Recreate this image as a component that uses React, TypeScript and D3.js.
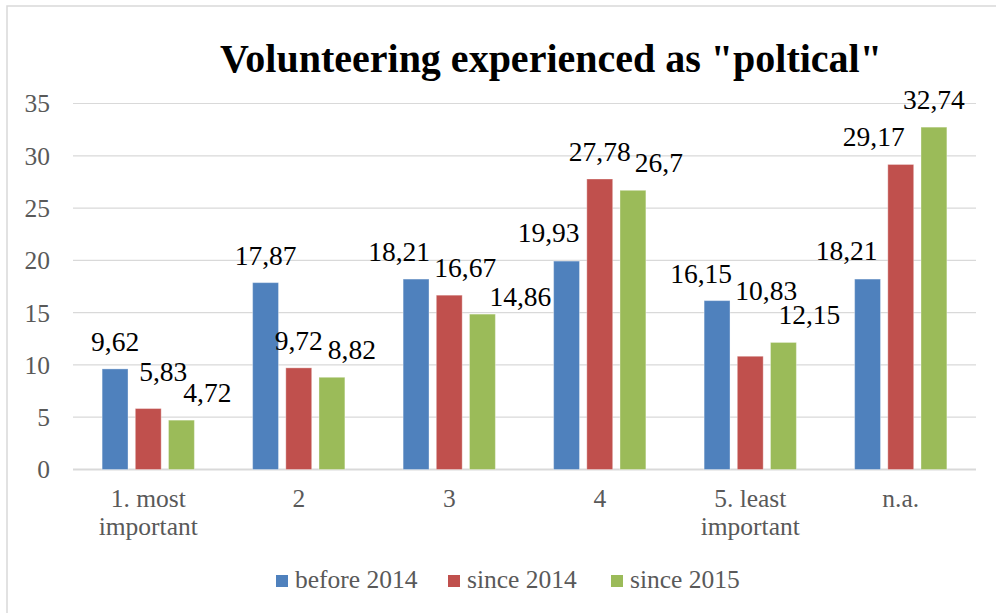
import React from 'react';
import { scaleBand, scaleLinear, range } from 'd3';

const width = 996;
const height = 613;
const margin = { top: 103.5, right: 20, bottom: 143.5, left: 73 };

const categories = ['1. most\nimportant', '2', '3', '4', '5. least\nimportant', 'n.a.'];
const series = ['before 2014', 'since 2014', 'since 2015'];
const before2014 = [9.62, 17.87, 18.21, 19.93, 16.15, 18.21];
const since2014 = [5.83, 9.72, 16.67, 27.78, 10.83, 29.17];
const since2015 = [4.72, 8.82, 14.86, 26.7, 12.15, 32.74];
const yTicks = [0, 5, 10, 15, 20, 25, 30, 35];

const colors = ['#4F81BD', '#C0504D', '#9BBB59'];
// manual label nudges [dx, dy], like the hand-moved labels in the original
const labelNudge = [
  [[0, 0], [0, 0], [-17, 0], [-18, -1], [-16, 0], [-21, -1]],
  [[15, -10], [0, 0], [16, 0], [0, 0], [16, -38], [-27, 0]],
  [[26, 0], [20, 0], [38, 10], [26, 0], [26, 0], [0, 0]],
];

const font = '"Liberation Serif", serif';

function App() {
  const values = [before2014, since2014, since2015];
  const x0 = scaleBand<number>()
    .domain(range(categories.length))
    .range([margin.left, width - margin.right])
    .paddingInner(0.387)
    .paddingOuter(0.1935);
  const x1 = scaleBand<number>()
    .domain(range(series.length))
    .range([0, x0.bandwidth()])
    .paddingInner(0.22);
  const y = scaleLinear().domain([0, 35]).range([height - margin.bottom, margin.top]);

  const plotRight = width - margin.right;

  // legend layout
  const legendX = [276, 448, 611];

  return (
    <svg
      width={width}
      height={height}
      style={{ position: 'absolute', left: 0, top: 0, background: '#fff' }}
    >
      <rect x={7} y={6} width={width} height={height} fill="#fff" stroke="#d9d9d9" strokeWidth={1.5} />
      <text
        x={551}
        y={72}
        textAnchor="middle"
        fontFamily={font}
        fontWeight="bold"
        fontSize={40}
        fill="#000"
      >
        Volunteering experienced as "poltical"
      </text>

      {yTicks.map((t) => (
        <g key={t}>
          <line
            x1={margin.left}
            x2={plotRight}
            y1={y(t)}
            y2={y(t)}
            stroke="#d9d9d9"
            strokeWidth={t === 0 ? 2 : 1.2}
          />
          <text
            x={50}
            y={y(t)}
            dy="0.35em"
            textAnchor="end"
            fontFamily={font}
            fontSize={25.5}
            fill="#595959"
          >
            {t}
          </text>
        </g>
      ))}

      {values.map((vals, s) =>
        vals.map((v, c) => (
          <rect
            key={`${s}-${c}`}
            x={x0(c)! + x1(s)!}
            y={y(v)}
            width={x1.bandwidth()}
            height={y(0) - y(v)}
            fill={colors[s]}
            stroke="#ffffff"
            strokeOpacity={0.35}
            strokeWidth={1}
          />
        ))
      )}

      {values.map((vals, s) =>
        vals.map((v, c) => (
          <text
            key={`l-${s}-${c}`}
            x={x0(c)! + x1(s)! + x1.bandwidth() / 2 + labelNudge[s][c][0]}
            y={y(v) - 18 + labelNudge[s][c][1]}
            textAnchor="middle"
            fontFamily={font}
            fontSize={27.5}
            fill="#000"
          >
            {String(v).replace('.', ',')}
          </text>
        ))
      )}

      {categories.map((cat, c) =>
        cat.split('\n').map((line, i) => (
          <text
            key={`${c}-${i}`}
            x={x0(c)! + x0.bandwidth() / 2}
            y={507 + i * 28}
            textAnchor="middle"
            fontFamily={font}
            fontSize={25.5}
            fill="#595959"
          >
            {line}
          </text>
        ))
      )}

      {series.map((name, s) => (
        <g key={name} transform={`translate(${legendX[s]},575)`}>
          <rect width={12} height={12} fill={colors[s]} />
          <text x={19} y={13} fontFamily={font} fontSize={25.5} fill="#595959">
            {name}
          </text>
        </g>
      ))}
    </svg>
  );
}

export default App;
